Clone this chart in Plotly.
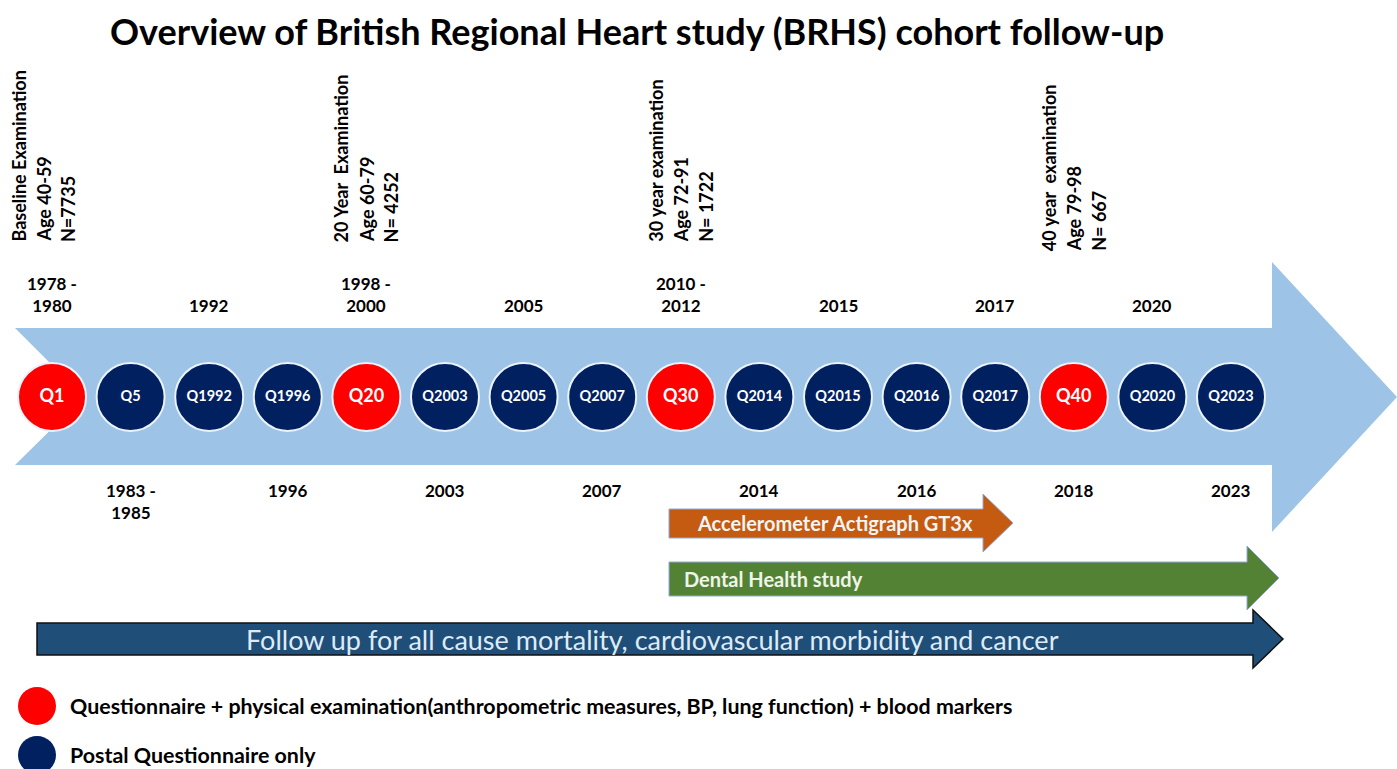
import plotly.graph_objects as go

# questionnaire waves along the timeline
wave_labels = ["Q1", "Q5", "Q1992", "Q1996", "Q20", "Q2003", "Q2005", "Q2007",
               "Q30", "Q2014", "Q2015", "Q2016", "Q2017", "Q40", "Q2020", "Q2023"]
wave_kind = ["exam", "postal", "postal", "postal", "exam", "postal", "postal", "postal",
             "exam", "postal", "postal", "postal", "postal", "exam", "postal", "postal"]
wave_years = ["1978 -<br>1980", "1983 -<br>1985", "1992", "1996", "1998 -<br>2000", "2003",
              "2005", "2007", "2010 -<br>2012", "2014", "2015", "2016", "2017", "2018",
              "2020", "2023"]

# notes written vertically above the examination waves
exam_notes = {
    0: ["Baseline Examination", "Age 40-59", "N=7735"],
    4: ["20 Year  Examination", "Age 60-79", "N= 4252"],
    8: ["30 year examination", "Age 72-91", "N= 1722"],
    13: ["40 year  examination", "Age 79-98", "N= 667"],
}

sub_studies = ["Accelerometer Actigraph GT3x", "Dental Health study"]
followup_text = "Follow up for all cause mortality, cardiovascular morbidity and cancer"
legend_text = ["Questionnaire + physical examination(anthropometric measures, BP, lung function) + blood markers",
               "Postal Questionnaire only"]

title = "Overview of British Regional Heart study (BRHS) cohort follow-up"

RED = "#FF0000"
NAVY = "#002060"
FONT = "Lato"

W, H = 1397, 769
x0, step, ymid = 52, 78.6, 397
xs = [x0 + i * step for i in range(len(wave_labels))]

fig = go.Figure()

shapes = [
    dict(type="path", path="M 15 328 L 1272 328 L 1272 262 L 1397 397 L 1272 532 L 1272 465 L 15 465 L 84 397 Z",
         fillcolor="#9DC3E6", line=dict(width=0), layer="below"),
    dict(type="path", path="M 669 509 L 983 509 L 983 494 L 1013 523 L 983 552 L 983 538 L 669 538 Z",
         fillcolor="#C55A11", line=dict(color="#8FAADC", width=1), layer="below"),
    dict(type="path", path="M 669 562 L 1247 562 L 1247 546 L 1279 578 L 1247 610 L 1247 596 L 669 596 Z",
         fillcolor="#548235", line=dict(color="#8FAADC", width=1), layer="below"),
    dict(type="path", path="M 37 623 L 1253 623 L 1253 610 L 1283 639 L 1253 668 L 1253 655 L 37 655 Z",
         fillcolor="#1F4E79", line=dict(color="#111111", width=1.5), layer="below"),
]

colors = [RED if k == "exam" else NAVY for k in wave_kind]
tsize = [18 if k == "exam" else 14.5 for k in wave_kind]

fig.add_trace(go.Scatter(
    x=xs, y=[ymid] * len(xs), mode="markers+text",
    marker=dict(size=68, color=colors, line=dict(color="#EAF2FA", width=2)),
    text=wave_labels, textposition="middle center",
    textfont=dict(family=FONT, size=tsize, color="white", weight="bold"),
    hoverinfo="skip", showlegend=False,
))

# legend dots
fig.add_trace(go.Scatter(
    x=[37, 37], y=[706, 755], mode="markers",
    marker=dict(size=38, color=[RED, NAVY]),
    hoverinfo="skip", showlegend=False,
))

ann = []
ann.append(dict(x=637, y=31, text="<b>" + title + "</b>", showarrow=False,
                font=dict(family=FONT, size=36, color="black"), xanchor="center", yanchor="middle"))

for i, (x, lab) in enumerate(zip(xs, wave_years)):
    if i % 2 == 0:
        ann.append(dict(x=x, y=318, text="<b>" + lab + "</b>", showarrow=False, xanchor="center",
                        yanchor="bottom", font=dict(family=FONT, size=17, color="black")))
    else:
        ann.append(dict(x=x, y=478, text="<b>" + lab + "</b>", showarrow=False, xanchor="center",
                        yanchor="top", font=dict(family=FONT, size=17, color="black")))

for i, lines in exam_notes.items():
    cx = xs[i] - 9 if i == 0 else xs[i]
    ybot = 253 if i == 13 else 244
    for j, line in enumerate(lines):
        ann.append(dict(x=cx + (j - 1) * 25, y=ybot, text="<b>" + line + "</b>", textangle=-90,
                        showarrow=False, xanchor="center", yanchor="bottom",
                        font=dict(family=FONT, size=18, color="black")))

ann.append(dict(x=835, y=523, text="<b>" + sub_studies[0] + "</b>", showarrow=False,
                font=dict(family=FONT, size=20, color="#F4F4F4"), xanchor="center", yanchor="middle"))
ann.append(dict(x=682, y=579, text="<b>" + sub_studies[1] + "</b>", showarrow=False,
                font=dict(family=FONT, size=20, color="#EEF5E8"), xanchor="left", yanchor="middle"))
ann.append(dict(x=652, y=639, text=followup_text, showarrow=False,
                font=dict(family=FONT, size=27, color="#DDEBF7"), xanchor="center", yanchor="middle"))

for yy, t in zip([706, 755], legend_text):
    ann.append(dict(x=68, y=yy, text="<b>" + t + "</b>", showarrow=False, xanchor="left",
                    yanchor="middle", font=dict(family=FONT, size=21.4, color="black")))

fig.update_layout(
    width=W, height=H, margin=dict(l=0, r=0, t=0, b=0),
    paper_bgcolor="white", plot_bgcolor="white",
    xaxis=dict(range=[0, W], visible=False, fixedrange=True),
    yaxis=dict(range=[H, 0], visible=False, fixedrange=True),
    shapes=shapes, annotations=ann,
)

# drop the default page margin so the figure fills the window exactly
fig.write_html("out.html", config={"displayModeBar": False},
               post_script="document.body.style.margin='0px';")
